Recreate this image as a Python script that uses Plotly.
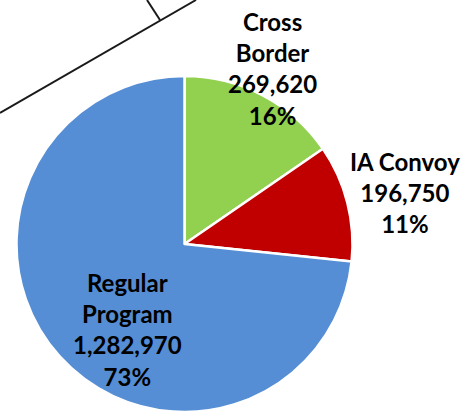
import plotly.graph_objects as go

categories = ["Cross Border", "IA Convoy", "Regular Program"]
label_lines = ["Cross<br>Border", "IA Convoy", "Regular<br>Program"]
values = [269620, 196750, 1282970]
percent_labels = ["16%", "11%", "73%"]
colors = ["#92D050", "#C00000", "#558ED5"]

W, H = 461, 412

fig = go.Figure()
fig.add_trace(go.Pie(
    labels=categories,
    values=values,
    sort=False,
    direction="clockwise",
    rotation=0,
    textinfo="none",
    hoverinfo="label+value+percent",
    marker=dict(colors=colors, line=dict(color="white", width=2.5)),
    domain=dict(x=[16 / W, 353 / W], y=[0, 1 - 76 / H]),
    showlegend=False,
))

# label anchor positions (pixels, centre of text block)
label_pos = [(272, 68), (405, 192), (127, 329)]
for name, val, pct, (px, py) in zip(label_lines, values, percent_labels, label_pos):
    fig.add_annotation(
        x=px / W, y=1 - py / H, xref="paper", yref="paper",
        xanchor="center", yanchor="middle", showarrow=False,
        text=f"<b>{name}<br>{val:,}<br>{pct}</b>",
        align="center",
        font=dict(family="Lato", size=24, color="black"),
    )

# decorative lines at top-left (part of the original graphic)
fig.add_shape(type="line", xref="paper", yref="paper",
              x0=0, y0=1 - 113 / H, x1=196 / W, y1=1,
              line=dict(color="#1a1a1a", width=2))
fig.add_shape(type="line", xref="paper", yref="paper",
              x0=147 / W, y0=1, x1=160 / W, y1=1 - 20 / H,
              line=dict(color="#1a1a1a", width=2))

fig.update_layout(
    width=W, height=H,
    margin=dict(l=0, r=0, t=0, b=0),
    paper_bgcolor="white", plot_bgcolor="white",
)

fig.write_html("out.html",
               config={"displayModeBar": False},
               post_script="document.body.style.margin='0';document.body.style.overflow='hidden';")
